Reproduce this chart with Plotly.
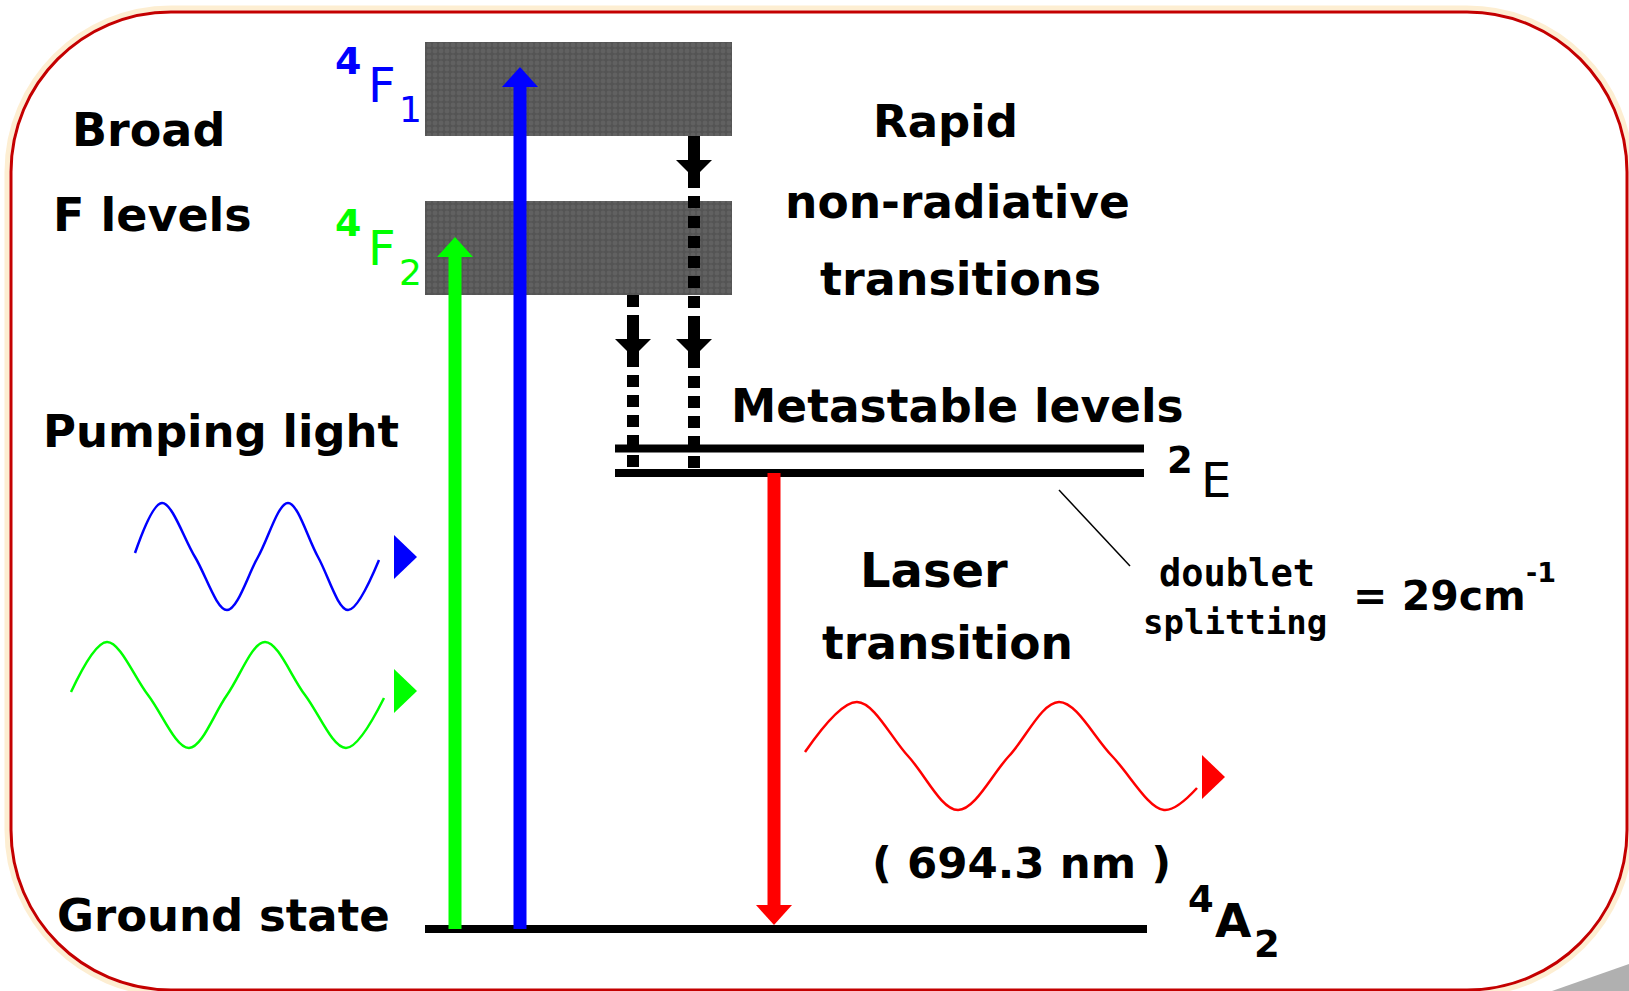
import plotly.graph_objects as go

W, H = 1629, 991

# broad 4F absorption bands (diagram units = px of the slide, y down)
band_names = ["4F1", "4F2"]
band_top = [42, 201]
band_bottom = [136, 295]
band_left = [425, 425]
band_right = [732, 732]

# sharp levels
level_names = ["4A2", "2E upper", "2E lower"]
level_y = [929, 448.5, 473]
level_left = [425, 615, 615]
level_right = [1147, 1144, 1144]

# radiative transitions: two pump lines up, laser line down
rad_names = ["pump 4F2", "pump 4F1", "laser"]
rad_x = [455, 520, 774]
rad_start = [929, 929, 473]
rad_end = [237, 67, 925]
rad_colors = ["#00ff00", "#0000ff", "#ff0000"]

# rapid non-radiative decays
nr_x = [694, 633]
nr_start = [136, 295]
nr_end = [473, 473]
nr_heads = [[160, 339], [339]]

# light waves: start, peaks, crossings, troughs, end
blue_wave_x = [135, 162, 195, 227, 258, 288, 318, 348, 379]
blue_wave_y = [553, 503, 557, 610, 557, 503, 557, 610, 560]
green_wave_x = [71, 107, 148, 189, 227, 265, 305, 346, 384]
green_wave_y = [692, 642, 695, 748, 695, 642, 695, 748, 698]
red_wave_x = [805, 857, 908, 958, 1009, 1059, 1112, 1164, 1197]
red_wave_y = [752, 702, 756, 810, 756, 702, 756, 810, 788]
wave_tip_x = [417, 417, 1225]
wave_tip_y = [557, 691, 777]

# doublet-splitting pointer
pointer_x = [1059, 1130]
pointer_y = [490, 566]

# labels
label_text = ["Broad", "F levels", "Pumping light", "Ground state", "Rapid",
              "non-radiative", "transitions", "Metastable levels", "Laser",
              "transition", "( 694.3 nm )", "= 29cm"]
label_x = [148, 152, 221, 223, 945, 957, 960, 957.5, 933.5, 947, 1021, 1439]
label_y = [130, 215, 431, 915, 121.5, 202, 279, 406.5, 569.5, 643.5, 862.5, 596]
label_size = [46, 46, 45, 45, 45, 45.5, 46, 45.5, 48, 45.5, 43.5, 41]

mono_text = ["doublet", "splitting"]
mono_x = [1237, 1235]
mono_y = [573.5, 621.5]
mono_size = [37, 34]

# term symbols, one glyph each: text, x, y, size, bold, colour
term_text = ["4", "F", "1", "4", "F", "2", "2", "E", "4", "A", "2", "-1"]
term_x = [348, 382, 410, 348, 382, 410, 1180, 1216, 1201, 1233, 1267, 1541]
term_y = [61, 85, 109, 223, 248, 272, 460, 480, 899, 920, 944, 572.5]
term_size = [38, 48, 36, 38, 48, 36, 37, 48, 37, 47, 37, 27]
term_bold = [True, False, False, True, False, False, True, False, True, True, True, True]
term_color = ["#0000ff"] * 3 + ["#00ff00"] * 3 + ["#000000"] * 6

FONT = "DejaVu Sans"

fig = go.Figure()

# bands as bars with a grainy texture
for i in range(len(band_names)):
    fig.add_trace(go.Bar(
        x=[(band_left[i] + band_right[i]) / 2], width=[band_right[i] - band_left[i]],
        base=[band_top[i]], y=[band_bottom[i] - band_top[i]],
        marker=dict(color="#5a5a5a", line_width=0,
                    pattern=dict(shape=".", fgcolor="#6e6e6e", bgcolor="#545454",
                                 size=6, solidity=0.5)),
        hoverinfo="skip"))

# sharp levels
for i in range(len(level_names)):
    fig.add_trace(go.Scatter(x=[level_left[i], level_right[i]], y=[level_y[i], level_y[i]],
                             mode="lines", line=dict(color="black", width=8), hoverinfo="skip"))

# non-radiative dotted decays
for i in range(len(nr_x)):
    x = nr_x[i]
    fig.add_trace(go.Scatter(x=[x, x], y=[nr_start[i], nr_end[i]], mode="lines",
                             line=dict(color="black", width=12, dash="12px,8px"),
                             hoverinfo="skip"))
    for hy in nr_heads[i]:
        fig.add_trace(go.Scatter(x=[x, x], y=[hy - 12, hy + 21], mode="lines",
                                 line=dict(color="black", width=12), hoverinfo="skip"))
        fig.add_trace(go.Scatter(x=[x - 18, x + 18, x + 6, x - 6, x - 18],
                                 y=[hy, hy, hy + 12, hy + 12, hy], mode="lines",
                                 fill="toself", fillcolor="black", line_width=0,
                                 hoverinfo="skip"))

# radiative transitions
for i in range(len(rad_x)):
    x, y0, y1 = rad_x[i], rad_start[i], rad_end[i]
    step = -20 if y1 < y0 else 20
    base = y1 - step
    fig.add_trace(go.Scatter(x=[x, x], y=[y0, base], mode="lines",
                             line=dict(color=rad_colors[i], width=13), hoverinfo="skip"))
    fig.add_trace(go.Scatter(x=[x - 18, x + 18, x, x - 18], y=[base, base, y1, base],
                             mode="lines", fill="toself", fillcolor=rad_colors[i],
                             line_width=0, hoverinfo="skip"))

# waves
waves = [(blue_wave_x, blue_wave_y, "#0000ff"),
         (green_wave_x, green_wave_y, "#00ff00"),
         (red_wave_x, red_wave_y, "#ff0000")]
for i, (wx, wy, c) in enumerate(waves):
    fig.add_trace(go.Scatter(x=wx, y=wy, mode="lines",
                             line=dict(color=c, width=2.5, shape="spline", smoothing=1.0),
                             hoverinfo="skip"))
    tx, ty = wave_tip_x[i], wave_tip_y[i]
    fig.add_trace(go.Scatter(x=[tx - 23, tx - 23, tx, tx - 23], y=[ty - 22, ty + 22, ty, ty - 22],
                             mode="lines", fill="toself", fillcolor=c, line_width=0,
                             hoverinfo="skip"))

fig.add_trace(go.Scatter(x=pointer_x, y=pointer_y, mode="lines",
                         line=dict(color="black", width=1.5), hoverinfo="skip"))

# text
for t, x, y, s in zip(label_text, label_x, label_y, label_size):
    fig.add_annotation(x=x, y=y, text=t, showarrow=False, xanchor="center", yanchor="middle",
                       font=dict(family=FONT, size=s, color="black", weight="bold"))
for t, x, y, s in zip(mono_text, mono_x, mono_y, mono_size):
    fig.add_annotation(x=x, y=y, text=t, showarrow=False, xanchor="center", yanchor="middle",
                       font=dict(family="DejaVu Sans Mono", size=s, color="black", weight="bold"))
for t, x, y, s, b, c in zip(term_text, term_x, term_y, term_size, term_bold, term_color):
    fig.add_annotation(x=x, y=y, text=t, showarrow=False, xanchor="center", yanchor="middle",
                       font=dict(family=FONT, size=s, color=c, weight="bold" if b else "normal"))

# rounded slide frame with a soft glow, plus the page-curl shadow
def rounded(x0, y0, x1, y1, r):
    k = 0.552 * r
    return (f"M {x0 + r},{y0} L {x1 - r},{y0} C {x1 - r + k},{y0} {x1},{y0 + r - k} {x1},{y0 + r} "
            f"L {x1},{y1 - r} C {x1},{y1 - r + k} {x1 - r + k},{y1} {x1 - r},{y1} "
            f"L {x0 + r},{y1} C {x0 + r - k},{y1} {x0},{y1 - r + k} {x0},{y1 - r} "
            f"L {x0},{y0 + r} C {x0},{y0 + r - k} {x0 + r - k},{y0} {x0 + r},{y0} Z")

fig.add_shape(type="path", path=rounded(7, 8, 1631, 994, 164), layer="below",
              line=dict(color="#fdeccb", width=5), opacity=0.85)
fig.add_shape(type="path", path=rounded(11, 12, 1627, 990, 160), layer="below",
              line=dict(color="#c40000", width=3))
fig.add_shape(type="path", path="M 1552,991 L 1629,964 L 1629,991 Z", layer="above",
              fillcolor="#b0b0b0", line_width=0)

fig.update_layout(
    width=W, height=H, margin=dict(l=0, r=0, t=0, b=0),
    paper_bgcolor="white", plot_bgcolor="white", showlegend=False,
    xaxis=dict(range=[0, W], visible=False, fixedrange=True),
    yaxis=dict(range=[H, 0], visible=False, fixedrange=True),
    barmode="overlay",
)

fig.write_html("out.html", config={"displayModeBar": False},
               post_script="document.body.style.margin='0px';")
